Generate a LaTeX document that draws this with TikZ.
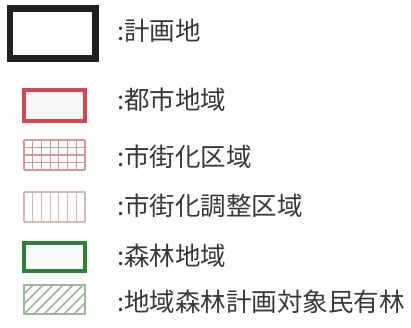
\documentclass[tikz,border=0pt]{standalone}
\usepackage{fontspec}
\setmainfont{Noto Sans CJK JP}
\begin{document}
\begin{tikzpicture}[x=1pt,y=-1pt,
  lbl/.style={anchor=west,inner sep=0pt,font=\fontsize{25.5}{28}\selectfont,text=black!78},
  thinred/.style={draw=red!55!black!40!white,line width=1.2pt},
  thinpink/.style={draw=red!40!black!28!white,line width=1.2pt},
  hatchcol/.style={draw={rgb,255:red,160;green,180;blue,160}}]
\useasboundingbox[fill=white] (0,0) rectangle (411,327);
% 1 black
\draw[line width=6.5pt,draw=black!88] (10,8.5) rectangle (95.5,58.5);
% 2 red
\draw[line width=4pt,draw={rgb,255:red,208;green,72;blue,82},fill=black!3] (24,90) rectangle (85,121);
% 3 grid
\foreach \i in {0,...,7} \draw[thinred] ({24+\i*61/7},140) -- ({24+\i*61/7},170);
\foreach \j in {0,...,4} \draw[thinred] (24,{140+\j*30/4}) -- (85,{140+\j*30/4});
% 4 vertical
\foreach \i in {0,...,7} \draw[thinpink] ({24+\i*61/7},192) -- ({24+\i*61/7},222);
\draw[thinpink] (24,192) -- (85,192) (24,222) -- (85,222);
% 5 green
\draw[line width=4.5pt,draw={rgb,255:red,40;green,128;blue,60},fill=black!2] (24,243) rectangle (85,271);
% 6 hatched
\begin{scope}
\clip (24,285) rectangle (85,314);
\foreach \k in {-40,-30,...,90} \draw[line width=1.5pt,hatchcol] ({24+\k},314) -- ({24+\k+29},285);
\end{scope}
\draw[line width=1.2pt,hatchcol] (24,285) rectangle (85,314);
% labels
\node[lbl] (t1) at (117,31) {:計画地};
\node[lbl] (t2) at (117,100) {:都市地域};
\node[lbl] (t3) at (117,157) {:市街化区域};
\node[lbl] (t4) at (117,206) {:市街化調整区域};
\node[lbl] (t5) at (117,256) {:森林地域};
\node[lbl] (t6) at (117,302) {:地域森林計画対象民有林};
\end{tikzpicture}
\end{document}
